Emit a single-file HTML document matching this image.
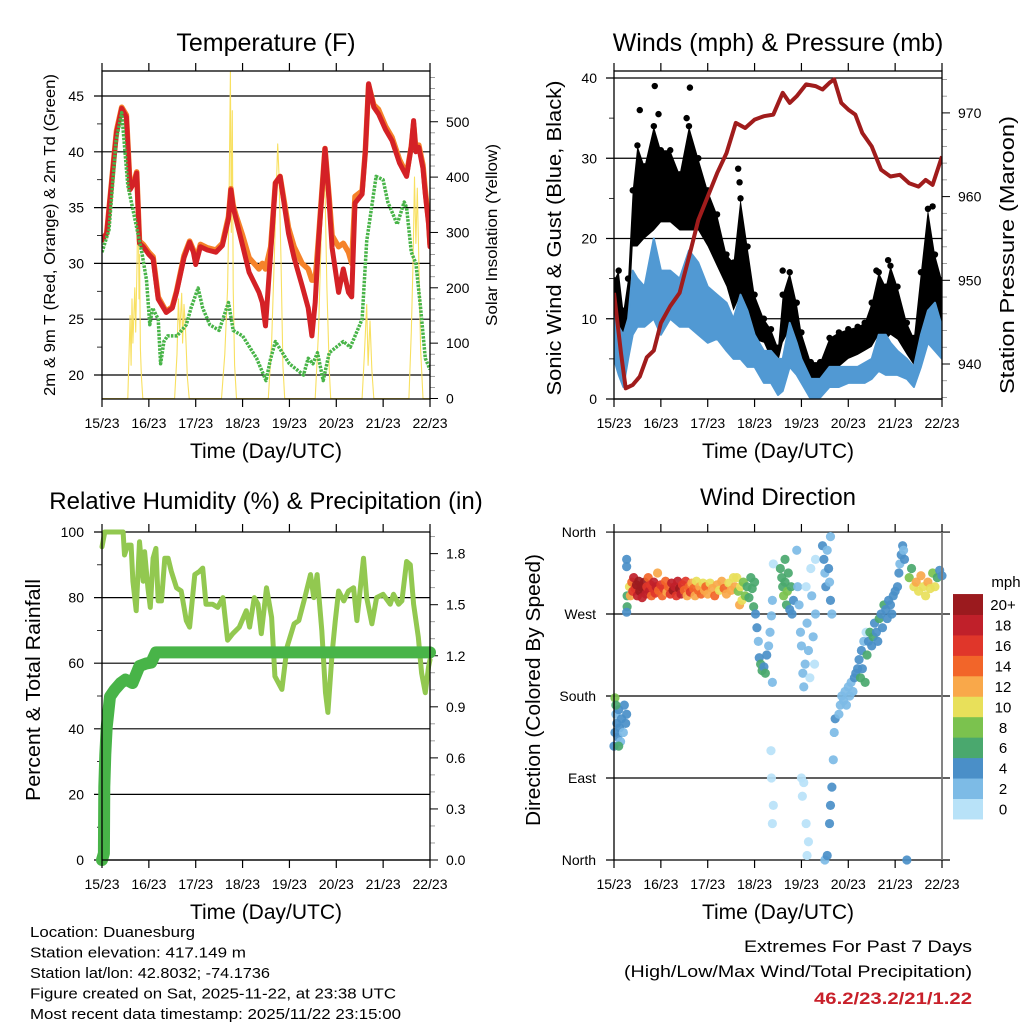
<!DOCTYPE html>
<html><head><meta charset="utf-8"><title>Duanesburg Station Meteogram</title>
<style>
html,body{margin:0;padding:0;background:#fff;}
svg{display:block;font-family:"Liberation Sans",Arial,sans-serif;}
</style></head>
<body>
<svg id="fig" xmlns="http://www.w3.org/2000/svg" width="1024" height="1024" viewBox="0 0 1024 1024">
<defs>
<clipPath id="c1"><rect x="102" y="71" width="328" height="328"/></clipPath>
<clipPath id="c2"><rect x="614" y="71" width="328" height="328"/></clipPath>
<clipPath id="c3"><rect x="96" y="526" width="340" height="340"/></clipPath>
<clipPath id="c4"><rect x="608" y="526" width="340" height="340"/></clipPath>
</defs>
<g id="root"></g>
</svg>
<script>
// ===== Temperature data =====
const tDays = [0,0.1,0.31,0.42,0.52,0.6,0.68,0.74,0.8,0.88,1.0,1.09,1.2,1.37,1.5,1.59,1.75,1.87,1.95,2.0,2.1,2.25,2.43,2.57,2.7,2.75,2.8,2.86,3.0,3.14,3.35,3.42,3.49,3.6,3.7,3.8,3.9,3.98,4.1,4.27,4.4,4.48,4.55,4.62,4.76,4.84,4.91,5.05,5.15,5.26,5.33,5.4,5.55,5.62,5.69,5.8,5.9,6.05,6.19,6.35,6.5,6.6,6.65,6.7,6.76,6.85,6.9,6.97,7.0];
const t2m   = [32.1,32.7,41.7,43.9,43.1,36.6,37.2,38.1,31.8,31.5,30.8,30.4,26.8,25.6,26.0,27.4,30.5,31.9,31.0,29.9,31.5,31.2,31.0,31.6,34.0,36.6,35.0,34.0,31.6,29.2,27.4,26.5,24.4,31.0,37.2,37.8,35.0,32.7,30.5,28.0,26.0,23.5,26.5,31.9,40.3,36.0,31.4,27.4,29.5,27.4,27.0,35.4,36.2,40.0,46.1,44.0,43.4,42.0,41.0,39.0,37.8,40.5,42.8,40.0,40.4,38.5,36.2,33.5,31.5];
const t9m   = [32.1,32.7,41.9,44.0,43.3,36.8,37.3,38.2,32.0,31.7,31.0,30.6,27.0,25.7,26.1,27.5,30.7,32.0,31.2,30.2,31.7,31.4,31.2,31.8,34.2,36.7,35.2,34.3,32.5,30.5,29.5,30.0,29.5,31.5,37.2,37.8,35.3,33.2,31.5,30.0,29.5,28.5,28.5,32.2,40.3,36.3,32.5,31.5,31.8,31.0,30.0,36.0,36.5,40.0,46.0,44.2,43.8,42.3,41.3,39.3,38.0,40.5,42.5,40.2,40.6,38.8,36.5,33.8,31.7];
const tdDays = [0,0.15,0.3,0.42,0.55,0.65,0.85,0.95,1.02,1.08,1.2,1.25,1.32,1.4,1.6,1.8,1.9,2.05,2.15,2.3,2.5,2.7,2.8,3.0,3.15,3.3,3.5,3.6,3.7,3.85,4.0,4.15,4.3,4.4,4.5,4.6,4.72,4.85,5.0,5.15,5.3,5.45,5.55,5.65,5.85,6.0,6.1,6.3,6.45,6.5,6.6,6.7,6.8,6.9,7.0];
const td2m   = [31.0,33.0,41.0,43.5,37.0,35.0,31.0,28.5,24.5,26.0,25.0,21.0,23.0,23.5,23.5,24.5,26.0,27.8,26.0,24.5,24.0,26.5,24.0,23.5,22.5,21.5,19.5,21.5,23.0,22.0,21.0,20.5,20.0,21.5,21.0,22.0,19.5,22.0,22.5,23.0,22.5,24.0,25.0,32.0,37.8,37.5,35.5,33.5,35.5,35.0,31.0,30.0,26.0,21.5,20.5];
const solarObs = [[0,0],[0.55,0],[0.6,150],[0.62,60],[0.64,180],[0.66,100],[0.7,200],[0.72,120],[0.75,250],[0.77,410],[0.79,180],[0.8,260],[0.82,90],[0.84,40],[0.87,0],
 [1.55,0],[1.6,80],[1.63,180],[1.66,120],[1.7,190],[1.72,100],[1.75,170],[1.78,130],[1.82,40],[1.86,0],
 [2.55,0],[2.62,80],[2.68,200],[2.71,350],[2.74,590],[2.76,300],[2.78,520],[2.8,200],[2.83,60],[2.87,0],
 [3.55,0],[3.62,100],[3.68,260],[3.72,380],[3.75,460],[3.78,400],[3.82,250],[3.86,60],[3.9,0],
 [4.55,0],[4.62,120],[4.68,300],[4.72,440],[4.76,380],[4.8,200],[4.85,50],[4.88,0],
 [5.55,0],[5.6,80],[5.65,170],[5.68,60],[5.72,140],[5.76,50],[5.8,0],
 [6.55,0],[6.6,120],[6.64,250],[6.67,400],[6.7,280],[6.73,380],[6.76,250],[6.8,90],[6.85,0],[7,0]];
const tempTicks = [20,25,30,35,40,45];
const solarTicks = [0,100,200,300,400,500];
const dayLabels = ["15/23","16/23","17/23","18/23","19/23","20/23","21/23","22/23"];

// ===== Wind & pressure data =====
const wDays = [0,0.1,0.2,0.3,0.4,0.5,0.65,0.85,1.0,1.2,1.4,1.6,1.8,2.0,2.2,2.4,2.55,2.7,2.85,3.0,3.2,3.35,3.5,3.6,3.75,3.9,4.0,4.2,4.4,4.6,4.8,5.0,5.2,5.35,5.5,5.65,5.8,5.9,6.05,6.25,6.4,6.55,6.7,6.85,7.0];
const gustMax = [14.8,16,11,15,26,31.6,29,34,31,31,28,34,30,26,23,18,17,25,19,13,10,8.7,6.4,13,15.8,12,8.3,4.6,4.6,7.6,8.3,8.7,9,9.5,12,15.8,14,16.6,14,9.5,7.6,15.8,23.7,18,14.8];
const gustMin = [7.3,5,4,8,19,19,20,21,22,22,21,21,21,19,16.5,14,11,13,11,7.4,7,5,4.5,7,8.7,6.4,4,0.5,1.5,4,4,5,5.5,6,6.5,8,7.4,8,7.4,5.5,4.2,8,11.2,10.4,7.3];
const windMax = [11,9,8,10,16,15,14,20,16,16,15,18.5,17,14,13,12,10,13,11,8,6,6,5,5,9.5,7,5,2.5,2.5,4,4,4,4,4.5,5,8,8,7,6,5,4,8,11,12,9];
const windMin = [5,3,1.5,5,8,9,9,10,8,10,9,9,8,7,7.5,6,5,5,4,4,2,2,0.5,1,4,3,2,0,0.2,1.5,1.5,2,2,2,2.5,3.5,3,3,3,2.5,1.5,4,7,6,5];
const gustPeaks = [[0.87,39],[1.62,38.8],[0.55,36],[0.95,35.5],[1.55,35],[2.65,28.7],[2.68,27],[3.6,16],[5.6,16],[5.85,17.3],[6.8,24]];
const pDays = [0,0.15,0.25,0.4,0.55,0.7,0.85,1.0,1.2,1.4,1.6,1.8,2.0,2.2,2.4,2.6,2.8,3.0,3.2,3.4,3.6,3.75,3.9,4.1,4.3,4.45,4.6,4.7,4.85,5.0,5.15,5.3,5.5,5.7,5.9,6.1,6.3,6.5,6.65,6.8,7.0];
const pres  = [948.5,941.3,937.1,937.5,938.5,940.8,941.6,944.9,946.9,948.5,952.8,957.2,960,962.8,965.2,968.8,968.2,969.2,969.6,969.8,972.4,971.2,972,973.4,973.2,972.8,973.6,974,971.2,970.4,969.8,967.6,966,963.2,962.4,962.6,961.6,961.2,962,961.4,964.8];
const windTicks = [0,10,20,30,40];
const presTicks = [940,950,960,970];

// ===== RH & precipitation =====
const rhDays = [0,0.06,0.45,0.48,0.55,0.62,0.66,0.73,0.8,0.88,0.91,0.98,1.03,1.09,1.15,1.2,1.27,1.34,1.41,1.48,1.59,1.69,1.8,1.87,1.98,2.08,2.15,2.22,2.36,2.47,2.58,2.68,2.79,2.93,3.08,3.15,3.25,3.33,3.4,3.51,3.62,3.69,3.84,3.95,4.1,4.2,4.31,4.45,4.52,4.59,4.69,4.77,4.82,4.91,4.98,5.05,5.16,5.26,5.37,5.44,5.58,5.65,5.76,5.86,6.0,6.15,6.22,6.33,6.4,6.5,6.58,6.65,6.75,6.82,6.9,6.97,7.0];
const rhVals = [95.5,100,100,93,96,96,85,76,97,85,94,83,77,92,95,79,79,92,92,88,83,82,73,71,87,88,89,78,78,77,80,67,69,71,76,71,80,78,69,83,74,56,52,65,72,73,79,87,80,87,70,51,45,63,73,82,79,82,83,73,92,80,72,80,81,78,81,78,79,91,90,78,68,57,51,59,61];
const prDays = [0,0.04,0.05,0.07,0.1,0.17,0.27,0.4,0.5,0.58,0.65,0.8,0.95,1.05,1.15,1.3,7.0];
const prVals = [0,0.04,0.43,0.62,0.78,0.96,1.0,1.04,1.06,1.05,1.04,1.14,1.155,1.16,1.22,1.22,1.22];
const rhTicks = [0,20,40,60,80,100];
const prTicks = ["0.0","0.3","0.6","0.9","1.2","1.5","1.8"];

// ===== Wind direction (day, degrees, mph) =====
const dirObs = [[0.0,125,4],[0.02,140,4],[0.04,160,3],[0.06,150,4],[0.08,135,4],[0.1,165,4],[0.12,145,4],[0.14,130,3],[0.16,155,4],[0.2,140,3],[0.22,170,4],[0.25,150,4],[0.27,160,4],[0.02,178,9],[0.04,170,6],[0.1,125,6],[0.27,330,4],[0.27,322,4],[0.28,290,6],[0.28,278,6],[0.27,272,5],
[0.33,300,10],[0.35,290,12],[0.38,305,14],[0.4,295,16],[0.42,310,18],[0.45,298,16],[0.48,302,20],[0.5,290,18],[0.53,306,20],[0.55,295,22],[0.58,300,20],[0.6,288,18],[0.63,297,22],[0.65,305,20],[0.68,292,18],[0.7,300,16],[0.73,310,14],[0.75,295,18],[0.78,302,16],[0.8,290,14],[0.83,298,16],[0.85,305,18],[0.88,293,16],[0.9,300,18],[0.93,315,12],[0.95,296,14],[1.0,302,16],[1.03,290,14],[1.06,298,16],[1.1,306,14],[1.13,294,12],[1.16,300,14],[1.2,292,16],[1.23,304,18],[1.26,296,20],[1.3,300,18],[1.33,290,16],[1.36,306,18],[1.4,298,20],[1.43,292,18],[1.46,302,16],[1.5,296,14],[1.53,306,16],[1.56,290,12],[1.6,300,14],[1.63,294,16],[1.66,304,12],[1.7,298,14],[1.73,290,12],[1.76,306,10],[1.8,296,14],[1.83,300,12],[1.86,292,14],[1.9,304,10],[1.93,296,12],[1.96,300,14],[2.0,292,12],[2.05,304,10],[2.1,298,12],[2.15,290,14],[2.2,302,12],[2.25,296,10],[2.3,306,12],[2.35,298,14],[2.4,292,12],[2.45,304,10],[2.5,296,12],[2.55,310,10],[2.58,300,12],
[2.62,310,10],[2.65,295,8],[2.68,280,12],[2.7,300,10],[2.73,285,11],[2.76,305,9],[2.8,290,8],[2.84,300,7],[2.88,288,6],[2.92,310,7],[2.95,298,6],[2.98,278,6],[3.0,305,7],
[3.02,270,4],[3.05,255,4],[3.08,240,3],[3.1,222,4],[3.13,215,6],[3.16,208,6],[3.2,212,5],[3.23,205,6],[3.26,225,4],[3.3,235,3],[3.33,250,3],[3.36,268,2],[3.38,285,2],[3.4,325,1],[3.38,195,3],[3.35,120,1],[3.36,90,1],[3.4,60,1],[3.38,40,1],
[3.55,320,6],[3.58,310,7],[3.6,300,6],[3.62,290,8],[3.65,305,7],[3.68,280,6],[3.7,295,8],[3.72,315,6],[3.75,275,5],[3.78,300,6],[3.8,270,5],[3.83,285,4],[3.65,330,6],
[3.9,340,2],[3.92,300,2],[3.95,280,3],[3.98,250,2],[4.0,235,2],[4.03,205,2],[4.05,190,3],[4.08,215,2],[4.1,300,1],[4.12,260,2],[4.15,230,2],[4.18,200,1],[4.0,90,0],[4.02,70,1],[4.05,85,1],[4.1,40,1],[4.12,5,0],[4.15,20,1],[4.2,320,1],[4.22,290,2],[4.25,245,2],[4.28,215,1],[4.3,270,2],[4.3,330,1],
[4.45,345,4],[4.48,330,4],[4.5,315,3],[4.52,300,4],[4.55,340,3],[4.58,320,4],[4.6,305,3],[4.62,285,4],[4.65,270,3],[4.62,355,3],[4.5,0,3],[4.55,5,4],[4.6,40,4],[4.62,60,4],[4.65,80,4],[4.68,110,3],[4.7,140,3],[4.72,155,4],
[4.8,160,2],[4.83,170,3],[4.86,180,2],[4.9,175,2],[4.93,185,3],[4.96,170,2],[5.0,190,2],[5.03,180,3],[5.06,195,2],[5.1,185,3],[5.13,200,4],[5.16,205,4],[5.2,210,4],[5.23,220,4],[5.26,200,6],[5.28,230,4],[5.3,210,4],[5.33,240,3],[5.36,195,7],[5.38,250,1],
[5.4,225,6],[5.43,240,5],[5.46,250,7],[5.5,235,5],[5.53,245,6],[5.56,260,4],[5.6,250,5],[5.63,240,4],[5.66,265,6],[5.7,270,4],[5.73,255,4],[5.76,280,6],[5.8,275,5],[5.83,265,4],[5.86,285,4],[5.9,280,5],[5.93,270,4],[5.96,290,4],[6.0,295,4],
[6.05,300,4],[6.08,315,4],[6.1,325,3],[6.13,335,4],[6.16,345,4],[6.18,340,3],[6.2,330,4],[6.25,0,4],
[6.3,310,8],[6.35,320,6],[6.4,300,10],[6.45,305,12],[6.5,295,10],[6.55,312,12],[6.6,300,10],[6.65,290,11],[6.7,305,13],[6.75,298,10],[6.8,315,8],[6.85,300,10],[6.9,310,6],[6.95,318,5],[7.0,312,4]];
const dirTicks = [0,90,180,270,360];
const dirLabels = ["North","East","South","West","North"];
const speedLabels = ["0","2","4","6","8","10","12","14","16","18","20+"];
const speedColors = ["#b8e2f8","#7dbbe6","#4a8fc8","#4aa86e","#7bc24e","#e8e05a","#f9a84a","#f26529","#e0362a","#c0202a","#9b1a1e"];

// ===== drawing =====
const NS="http://www.w3.org/2000/svg";
const root=document.getElementById('root');
function mk(tag,attrs,parent){const e=document.createElementNS(NS,tag);for(const k in attrs)e.setAttribute(k,attrs[k]);(parent||root).appendChild(e);return e;}
function txt(s,attrs,parent){const e=mk('text',attrs,parent);e.textContent=s;return e;}
function line(x1,y1,x2,y2,col,w,p){return mk('line',{x1,y1,x2,y2,stroke:col||'#000','stroke-width':w||1},p);}

const xL=d=>102+d*(328/7), xR=d=>614+d*(328/7);
const yT=t=>375-(t-20)*11.16, yS=s=>398.5-s*0.5535;
const yW=w=>399-w*8.025, yP=p=>364-(p-940)*8.37;
const yH=r=>860-r*3.28, yPr=v=>860-v*170.2;
const yD=d=>860-d*0.911;

function xAxis(xf,yb,ytop,name,topTicks){
  const g=mk('g',{});
  
  
  for(let i=0;i<8;i++){const x=xf(i);
    line(x,yb,x,yb+8,'#000',1.2,g);
    if(topTicks) line(x,ytop,x,ytop-8,'#000',1.2,g);
    const t=txt(dayLabels[i],{x:x,y:yb+29,'font-size':14,'text-anchor':'middle'},g);
    
    
  }
  return g;
}
function title(s,x,y,size,name){const t=txt(s,{x,y,'font-size':size,'text-anchor':'middle'});return t;}
function vtitle(s,x,y,size,name,len){const a={x:0,y:0,'font-size':size,'text-anchor':'middle',transform:`translate(${x},${y}) rotate(-90)`};if(len){a.textLength=len;a.lengthAdjust='spacingAndGlyphs';}const t=txt(s,a);return t;}
function path(pts){return pts.map((p,i)=>(i?'L':'M')+p[0].toFixed(1)+' '+p[1].toFixed(1)).join(' ');}

// ---------- Panel 1 ----------
(function(){
  const g=mk('g',{});
  tempTicks.forEach(t=>{line(94,yT(t),430,yT(t),'#000',1.2,g);
    const l=txt(String(t),{x:84,y:yT(t)+5,'font-size':14,'text-anchor':'end'},g);});
  for(let t=17.5;t<=47.5;t+=5){if(yT(t)>71&&yT(t)<399)line(97,yT(t),102,yT(t),'#000',0.8,g);}
  solarTicks.forEach(s=>{line(430,yS(s),438,yS(s),'#000',1,g);
    const l=txt(String(s),{x:446,y:yS(s)+5,'font-size':14},g);});
  for(let s=20;s<590;s+=20){if(s%100)line(430,yS(s),435,yS(s),'#888',0.8,g);}
  const c=mk('g',{'clip-path':'url(#c1)'},g);
  const sol=mk('path',{d:path(solarObs.map(p=>[xL(p[0]),yS(p[1])])),fill:'none',stroke:'#f8e060','stroke-width':1.1,'stroke-linejoin':'round'},c);
  
  const o=mk('path',{d:path(tDays.map((d,i)=>[xL(d),yT(t9m[i])])),fill:'none',stroke:'#f5822a','stroke-width':5.5,'stroke-linejoin':'round','stroke-linecap':'round'},c);
  
  const r=mk('path',{d:path(tDays.map((d,i)=>[xL(d),yT(t2m[i])])),fill:'none',stroke:'#d42126','stroke-width':5,'stroke-linejoin':'round','stroke-linecap':'round'},c);
  
  const gd=mk('path',{d:path(tdDays.map((d,i)=>[xL(d),yT(td2m[i])])),fill:'none',stroke:'#48b448','stroke-width':3.5,'stroke-dasharray':'2.5 1.2','stroke-linejoin':'round'},c);
  
  mk('rect',{x:102,y:71,width:328,height:328,fill:'none',stroke:'#000','stroke-width':1.3},g);
  xAxis(xL,399,71,'temp-x-axis',true);
})();
title('Temperature (F)',266,51,25,'temperature-title');
vtitle('2m & 9m T (Red, Orange) & 2m Td (Green)',55,235,16,'temp-y-axis-title',322);
vtitle('Solar Insolation (Yellow)',497,235,16,'solar-y-axis-title',182);
title('Time (Day/UTC)',266,458,21,'temp-x-axis-title');

// ---------- Panel 2 ----------
(function(){
  const g=mk('g',{});
  windTicks.forEach(w=>{line(606,yW(w),942,yW(w),'#000',1.2,g);
    const l=txt(String(w),{x:597,y:yW(w)+5,'font-size':14,'text-anchor':'end'},g);});
  for(let w=5;w<40;w+=10)line(609,yW(w),614,yW(w),'#000',0.8,g);
  presTicks.forEach(p=>{line(942,yP(p),950,yP(p),'#000',1,g);
    const l=txt(String(p),{x:958,y:yP(p)+5,'font-size':14},g);});
  for(let p=936;p<=975;p+=2){if(p%10)line(942,yP(p),947,yP(p),'#888',0.8,g);}
  const c=mk('g',{'clip-path':'url(#c2)'},g);
  const gb=mk('path',{d:path(wDays.map((d,i)=>[xR(d),yW(gustMax[i])]).concat(wDays.map((d,i)=>[xR(d),yW(gustMin[i])]).reverse()))+'Z',fill:'#000'},c);
  
  wDays.forEach((d,i)=>{const cc=mk('circle',{cx:xR(d),cy:yW(gustMax[i]),r:3.2,fill:'#000'},c);
    });
  gustPeaks.forEach(p=>{const cc=mk('circle',{cx:xR(p[0]),cy:yW(p[1]),r:3.2,fill:'#000'},c);
    });
  const wb=mk('path',{d:path(wDays.map((d,i)=>[xR(d),yW(windMax[i])]).concat(wDays.map((d,i)=>[xR(d),yW(windMin[i])]).reverse()))+'Z',fill:'#5199d3',stroke:'#5199d3','stroke-width':2,'stroke-linejoin':'round'},c);
  
  const pl=mk('path',{d:path(pDays.map((d,i)=>[xR(d),yP(pres[i])])),fill:'none',stroke:'#a01c1c','stroke-width':4,'stroke-linejoin':'round'},c);
  
  mk('rect',{x:614,y:71,width:328,height:328,fill:'none',stroke:'#000','stroke-width':1.3},g);
  xAxis(xR,399,71,'wind-x-axis',true);
})();
title('Winds (mph) & Pressure (mb)',778,51,25,'winds-title');
vtitle('Sonic Wind & Gust (Blue, Black)',561,238,20,'wind-y-axis-title',315);
vtitle('Station Pressure (Maroon)',1014,255,20,'pressure-y-axis-title',278);
title('Time (Day/UTC)',778,458,21,'wind-x-axis-title');

// ---------- Panel 3 ----------
(function(){
  const g=mk('g',{});
  rhTicks.forEach(r=>{line(94,yH(r),430,yH(r),'#000',1.2,g);
    const l=txt(String(r),{x:84,y:yH(r)+5,'font-size':14,'text-anchor':'end'},g);});
  for(let r=10;r<100;r+=20)line(97,yH(r),102,yH(r),'#000',0.8,g);
  prTicks.forEach(p=>{const v=parseFloat(p);line(430,yPr(v),438,yPr(v),'#000',1,g);
    const l=txt(p,{x:446,y:yPr(v)+5,'font-size':14},g);});
  for(let k=1;k<=19;k++){if(k%3)line(430,yPr(k/10),435,yPr(k/10),'#888',0.8,g);}
  const c=mk('g',{'clip-path':'url(#c3)'},g);
  const rl=mk('path',{d:path(rhDays.map((d,i)=>[xL(d),yH(rhVals[i])])),fill:'none',stroke:'#92c850','stroke-width':5,'stroke-linejoin':'round','stroke-linecap':'round'},c);
  
  const pl=mk('path',{d:path(prDays.map((d,i)=>[xL(d),yPr(prVals[i])])),fill:'none',stroke:'#48b448','stroke-width':12,'stroke-linejoin':'round','stroke-linecap':'round'},c);
  
  line(102,532,102,860,'#000',1.3,g);line(430,532,430,860,'#000',1.3,g);line(102,860,430,860,'#000',1.3,g);
  xAxis(xL,860,532,'rh-x-axis',true);
})();
title('Relative Humidity (%) & Precipitation (in)',266,509,24,'rh-precip-title');
vtitle('Percent & Total Rainfall',40,690,20,'rh-y-axis-title',222);
title('Time (Day/UTC)',266,919,21,'rh-x-axis-title');

// ---------- Panel 4 ----------
(function(){
  const g=mk('g',{});
  dirTicks.forEach((d,i)=>{line(606,yD(d),950,yD(d),'#000',1.2,g);
    const l=txt(dirLabels[i],{x:596,y:yD(d)+5,'font-size':14,'text-anchor':'end'},g);});
  const c=mk('g',{'clip-path':'url(#c4)'},g);
  dirObs.forEach(o=>{const k=Math.min(10,Math.floor(o[2]/2));
    const cc=mk('circle',{cx:xR(o[0]),cy:yD(o[1]),r:4.6,fill:speedColors[k],'fill-opacity':0.92},c);
    });
  line(614,532,614,860,'#000',1.3,g);line(942,532,942,860,'#777',1.8,g);
  xAxis(xR,860,532,'direction-x-axis',true);
  const lg=mk('g',{},g);
  speedColors.forEach((col,i)=>{const y=819-(i+1)*20.45;
    const r=mk('rect',{x:953,y:y,width:30,height:20.9,fill:col},lg);
    const l=txt(speedLabels[i],{x:1003,y:y+16,'font-size':15,'text-anchor':'middle'},lg);});
  const u=txt('mph',{x:1006,y:587,'font-size':15,'text-anchor':'middle'},lg);
})();
title('Wind Direction',778,505,24,'wind-direction-title');
vtitle('Direction (Colored By Speed)',540,690,20,'direction-y-axis-title',272);
title('Time (Day/UTC)',778,919,21,'direction-x-axis-title');

// ---------- Footer ----------
const info=["Location: Duanesburg","Station elevation: 417.149 m","Station lat/lon: 42.8032; -74.1736","Figure created on Sat, 2025-11-22, at 23:38 UTC","Most recent data timestamp: 2025/11/22 23:15:00"];
const infoLen=[165,216,240,366,371];
info.forEach((s,i)=>{const t=txt(s,{x:30,y:937+i*20.5,'font-size':15,textLength:infoLen[i],lengthAdjust:'spacingAndGlyphs'});
  });
const e1=txt('Extremes For Past 7 Days',{x:972,y:952,'font-size':17,'text-anchor':'end',textLength:228,lengthAdjust:'spacingAndGlyphs'});

const e2=txt('(High/Low/Max Wind/Total Precipitation)',{x:972,y:977,'font-size':17,'text-anchor':'end',textLength:348,lengthAdjust:'spacingAndGlyphs'});

const e3=txt('46.2/23.2/21/1.22',{x:972,y:1004,'font-size':17,'font-weight':'bold',fill:'#c8202a','text-anchor':'end',textLength:158,lengthAdjust:'spacingAndGlyphs'});

</script>
</body></html>
